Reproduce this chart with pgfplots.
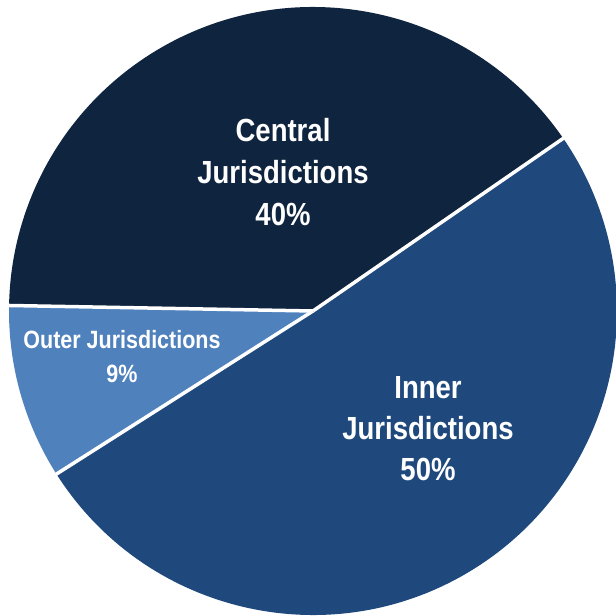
\documentclass[border=0pt]{standalone}
\usepackage{fontspec}
\usepackage{pgfplots}
\usepackage{pgfplotstable}
\pgfplotsset{compat=1.18}
\newfontfamily\lab{Liberation Sans}[FakeStretch=0.86]
\definecolor{cCentral}{HTML}{0F243E}
\definecolor{cInner}{HTML}{1F497D}
\definecolor{cOuter}{HTML}{4F81BD}
% slice shares (percent), counter-clockwise from start angle
\def\startang{34.6}
\def\vCentral{40.1}
\def\vOuter{9.3}
\def\vInner{50.6}
\begin{document}
\begin{tikzpicture}
\begin{axis}[width=616pt,height=616pt,scale only axis,hide axis,
  xmin=0,xmax=616,ymin=0,ymax=616,clip=true]
\pgfmathsetmacro{\aA}{\startang}
\pgfmathsetmacro{\aB}{\aA+3.6*\vCentral}
\pgfmathsetmacro{\aC}{\aB+3.6*\vOuter}
\pgfmathsetmacro{\aD}{\aC+3.6*\vInner}
\def\R{304pt}
\fill[cCentral] (axis cs:313,305) -- ++(\aA:\R) arc[start angle=\aA,end angle=\aB,radius=\R] -- cycle;
\fill[cOuter] (axis cs:313,305) -- ++(\aB:\R) arc[start angle=\aB,end angle=\aC,radius=\R] -- cycle;
\fill[cInner] (axis cs:313,305) -- ++(\aC:\R) arc[start angle=\aC,end angle=\aD,radius=\R] -- cycle;
\draw[white,line width=3.5pt] (axis cs:313,305) -- ++(\aA:310pt);
\draw[white,line width=3.5pt] (axis cs:313,305) -- ++(\aB:310pt);
\draw[white,line width=3.5pt] (axis cs:313,305) -- ++(\aC:310pt);
\node[white,align=center,font=\lab\bfseries\fontsize{32}{42}\selectfont] at (axis cs:283,444) {Central\\Jurisdictions\\40\%};
\node[white,align=center,font=\lab\bfseries\fontsize{32}{41}\selectfont] at (axis cs:428,187) {Inner\\Jurisdictions\\50\%};
\node[white,align=center,font=\lab\bfseries\fontsize{25}{34}\selectfont] at (axis cs:122,259) {Outer Jurisdictions\\9\%};
\end{axis}
\pgfresetboundingbox
\path[use as bounding box] (0,0) rectangle (616pt,616pt);
\end{tikzpicture}
\end{document}
